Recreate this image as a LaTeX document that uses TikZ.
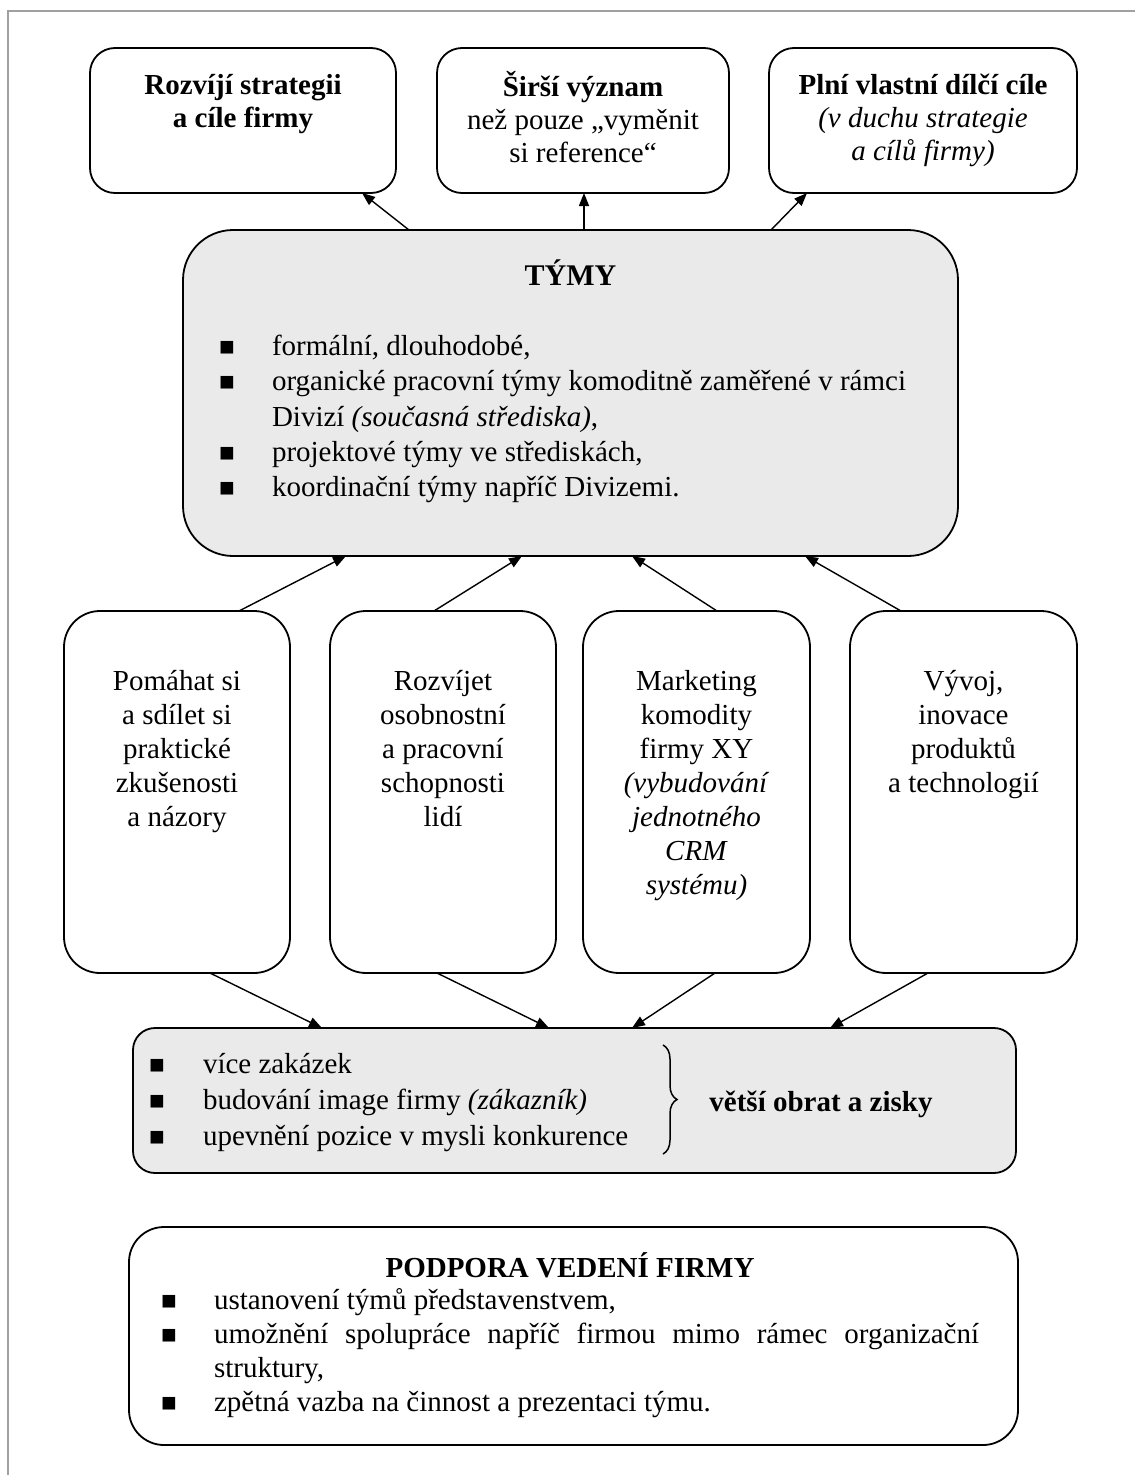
\documentclass[tikz,border=0pt]{standalone}
\usepackage{fontspec}
\setmainfont{Liberation Serif}
\usetikzlibrary{arrows.meta,decorations.pathreplacing,calc}
\definecolor{boxgray}{RGB}{234,234,234}
\definecolor{framegray}{RGB}{160,160,160}
\newcommand\blt{{\fontsize{26}{26}\selectfont ■}}
\begin{document}
\begin{tikzpicture}[x=1pt,y=-1pt,
  rbox/.style={draw, line width=1.8pt, rounded corners=#1, inner sep=0pt, outer sep=0pt},
  rbox/.default=25pt,
  txt/.style={inner sep=0pt, outer sep=0pt, anchor=north},
  conn/.style={line width=1.4pt, -{Triangle[length=13pt,width=10pt]}}]
\useasboundingbox (0,0) rectangle (1135,1475);
\draw[framegray, line width=2.4pt] (8,1475) -- (8,11) -- (1135,11);

% top boxes
\node[rbox, minimum width=306pt, minimum height=145pt] (t1) at (243,120.5) {};
\node[rbox, minimum width=292pt, minimum height=145pt] (t2) at (583,120.5) {};
\node[rbox, minimum width=308pt, minimum height=145pt] (t3) at (923,120.5) {};
\node[txt] (t1txt) at (243,71) {\fontsize{29}{33}\selectfont\bfseries\begin{tabular}{@{}c@{}}Rozvíjí strategii\\a cíle firmy\end{tabular}};
\node[txt] (t2txt) at (583,71) {\fontsize{29}{33}\selectfont\begin{tabular}{@{}c@{}}\textbf{Širší význam}\\než pouze „vyměnit\\si reference“\end{tabular}};
\node[txt] (t3txt) at (923,71) {\fontsize{29}{33}\selectfont\begin{tabular}{@{}c@{}}\textbf{Plní vlastní dílčí cíle}\\\textit{(v duchu strategie}\\\textit{a cílů firmy)}\end{tabular}};

% TYMY
\node[rbox=50pt, fill=boxgray, minimum width=775pt, minimum height=326pt] (tymy) at (570.5,393) {};
\node[inner sep=0pt, anchor=base] (tymytitle) at (570.5,285) {\fontsize{30}{36}\selectfont\bfseries TÝMY};
\node[txt, anchor=north west] (tymylist) at (219,331) {\fontsize{29}{35.25}\selectfont\begin{tabular}{@{}p{53pt}@{}l@{}}
\blt & formální, dlouhodobé,\\
\blt & organické pracovní týmy komoditně zaměřené v rámci\\
 & Divizí \textit{(současná střediska)},\\
\blt & projektové týmy ve střediskách,\\
\blt & koordinační týmy napříč Divizemi.
\end{tabular}};

% middle boxes
\node[rbox=36pt, minimum width=226pt, minimum height=362pt] (ma) at (177,792) {};
\node[rbox=36pt, minimum width=226pt, minimum height=362pt] (mb) at (443,792) {};
\node[rbox=36pt, minimum width=227pt, minimum height=362pt] (mc) at (696.5,792) {};
\node[rbox=36pt, minimum width=227pt, minimum height=362pt] (md) at (963.5,792) {};
\node[txt] (matxt) at (177,667) {\fontsize{29}{34}\selectfont\begin{tabular}{@{}c@{}}Pomáhat si\\a sdílet si\\praktické\\zkušenosti\\a názory\end{tabular}};
\node[txt] (mbtxt) at (443,667) {\fontsize{29}{34}\selectfont\begin{tabular}{@{}c@{}}Rozvíjet\\osobnostní\\a pracovní\\schopnosti\\lidí\end{tabular}};
\node[txt] (mctxt) at (696.5,667) {\fontsize{29}{34}\selectfont\begin{tabular}{@{}c@{}}Marketing\\komodity\\firmy XY\\\textit{(vybudování}\\\textit{jednotného}\\\textit{CRM}\\\textit{systému)}\end{tabular}};
\node[txt] (mdtxt) at (963.5,667) {\fontsize{29}{34}\selectfont\begin{tabular}{@{}c@{}}Vývoj,\\inovace\\produktů\\a technologií\end{tabular}};

% result box
\node[rbox=22pt, fill=boxgray, minimum width=883pt, minimum height=145pt] (result) at (574.5,1100.5) {};
\node[txt, anchor=north west] (resultlist) at (149,1048) {\fontsize{29}{36}\selectfont\begin{tabular}{@{}p{54pt}@{}l@{}}
\blt & více zakázek\\
\blt & budování image firmy \textit{(zákazník)}\\
\blt & upevnění pozice v mysli konkurence
\end{tabular}};
\draw[line width=1.5pt, decorate, decoration={brace, amplitude=14pt}] (663,1045) -- (663,1154);
\node[inner sep=0pt, anchor=base] (gain) at (821,1111) {\fontsize{29}{35}\selectfont\bfseries větší obrat a zisky};

% support box
\node[rbox=35pt, minimum width=889pt, minimum height=218pt] (support) at (573.5,1336) {};
\node[inner sep=0pt, anchor=base] (supporttitle) at (570,1277) {\fontsize{29}{35}\selectfont\bfseries PODPORA VEDENÍ FIRMY};
\node[txt, anchor=north west] (supportlist) at (161,1286) {\fontsize{29}{34}\selectfont\begin{tabular}{@{}p{53pt}@{}l@{}}
\blt & ustanovení týmů představenstvem,\\
\blt & \makebox[765pt][s]{umožnění spolupráce napříč firmou mimo rámec organizační}\\
 & struktury,\\
\blt & zpětná vazba na činnost a prezentaci týmu.
\end{tabular}};

% connectors
\draw[conn] ([xshift=-161.5pt]tymy.north) -- ([xshift=119pt]t1.south);
\draw[conn] ([xshift=13.5pt]tymy.north) -- ([xshift=1pt]t2.south);
\draw[conn] ([xshift=200.5pt]tymy.north) -- ([xshift=-116pt]t3.south);
\draw[conn] ([xshift=62pt]ma.north) -- ([xshift=-224.5pt]tymy.south);
\draw[conn] ([xshift=-9pt]mb.north) -- ([xshift=-48.5pt]tymy.south);
\draw[conn] ([xshift=20.5pt]mc.north) -- ([xshift=61.5pt]tymy.south);
\draw[conn] ([xshift=-62.5pt]md.north) -- ([xshift=234.5pt]tymy.south);
\draw[conn] ([xshift=33pt]ma.south) -- ([xshift=-252.5pt]result.north);
\draw[conn] ([xshift=-6pt]mb.south) -- ([xshift=-25.5pt]result.north);
\draw[conn] ([xshift=18.5pt]mc.south) -- ([xshift=57.5pt]result.north);
\draw[conn] ([xshift=-35.5pt]md.south) -- ([xshift=255.5pt]result.north);
\end{tikzpicture}
\end{document}
